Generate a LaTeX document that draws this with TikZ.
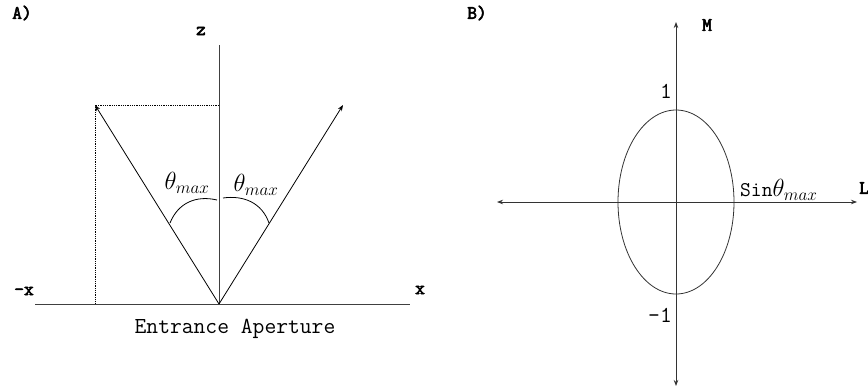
\documentclass[tikz,border=0pt]{standalone}
\usepackage{fontspec}
\newfontfamily\bmono{Latin Modern Mono}[FakeBold=3]
\usetikzlibrary{arrows.meta}
\begin{document}
\begin{tikzpicture}[x=1bp,y=-1bp,
  axis/.style={draw=black!75, line width=0.8bp},
  ray/.style={draw=black, line width=0.8bp, -{Stealth[length=6bp,width=4.5bp]}},
  dotline/.style={draw=black, line width=0.8bp, densely dotted},
  bothaxis/.style={draw=black!80, line width=0.8bp, {Stealth[length=6bp,width=4.5bp]}-{Stealth[length=6bp,width=4.5bp]}},
  blabel/.style={font=\fontsize{19}{21}\selectfont\bmono, inner sep=0pt},
  mlabel/.style={font=\fontsize{23}{25}\selectfont\ttfamily, inner sep=0pt},
  tlabel/.style={font=\fontsize{24}{26}\selectfont, inner sep=0pt}]
\useasboundingbox (0,0) rectangle (868,387);
% ---------- Panel A ----------
\node[blabel] (la) at (22,13) {A)};
\node[blabel] (lz) at (201,31) {z};
\node[blabel] (lmx) at (24,291) {-x};
\node[blabel] (lx) at (420,290) {x};
\coordinate (o) at (219,304);
\coordinate (ztop) at (219,45);
\coordinate (xl) at (35,304);
\coordinate (xr) at (410,304);
\coordinate (tl) at (95,105);
\coordinate (tr) at (343,105);
\coordinate (zl) at (219,105);
\coordinate (bl) at (95,304);
\draw[axis] (o) -- (ztop);
\draw[axis] (xl) -- (xr);
\draw[dotline] (zl) -- (tl) -- (bl);
\draw[ray] (o) -- (tl);
\draw[ray] (o) -- (tr);
\coordinate (al1) at (170,223);
\coordinate (al2) at (217,200);
\coordinate (ar1) at (223,198);
\coordinate (ar2) at (269,223);
\draw[line width=0.8bp] (al1) .. controls (178,203) and (196,195) .. (al2);
\draw[line width=0.8bp] (ar1) .. controls (244,195) and (262,203) .. (ar2);
\node[tlabel] (th1) at (187,183) {$\theta_{max}$};
\node[tlabel] (th2) at (256,185) {$\theta_{max}$};
\node[font=\fontsize{23}{25}\selectfont\ttfamily, inner sep=0pt] (ea) at (235,329) {Entrance Aperture};
% ---------- Panel B ----------
\node[blabel] (lb) at (477,13) {B)};
\coordinate (c) at (676,202);
\coordinate (mt) at (676,22);
\coordinate (mb) at (676,386);
\coordinate (ll) at (497,202);
\coordinate (lr) at (857,202);
\draw[bothaxis] (mb) -- (mt);
\draw[bothaxis] (ll) -- (lr);
\draw[draw=black!80, line width=0.8bp] (c) ellipse [x radius=58, y radius=92];
\node[blabel] (lm) at (707,25) {M};
\node[blabel, anchor=west] (ll2) at (859,188) {L};
\node[mlabel] (one) at (666,91) {1};
\node[mlabel] (mone) at (660,315) {-1};
\node[inner sep=0pt, anchor=west] (sin) at (740,190) {\fontsize{21}{23}\selectfont\ttfamily Sin{\fontsize{24}{26}\selectfont$\theta_{max}$}};
\end{tikzpicture}
\end{document}
